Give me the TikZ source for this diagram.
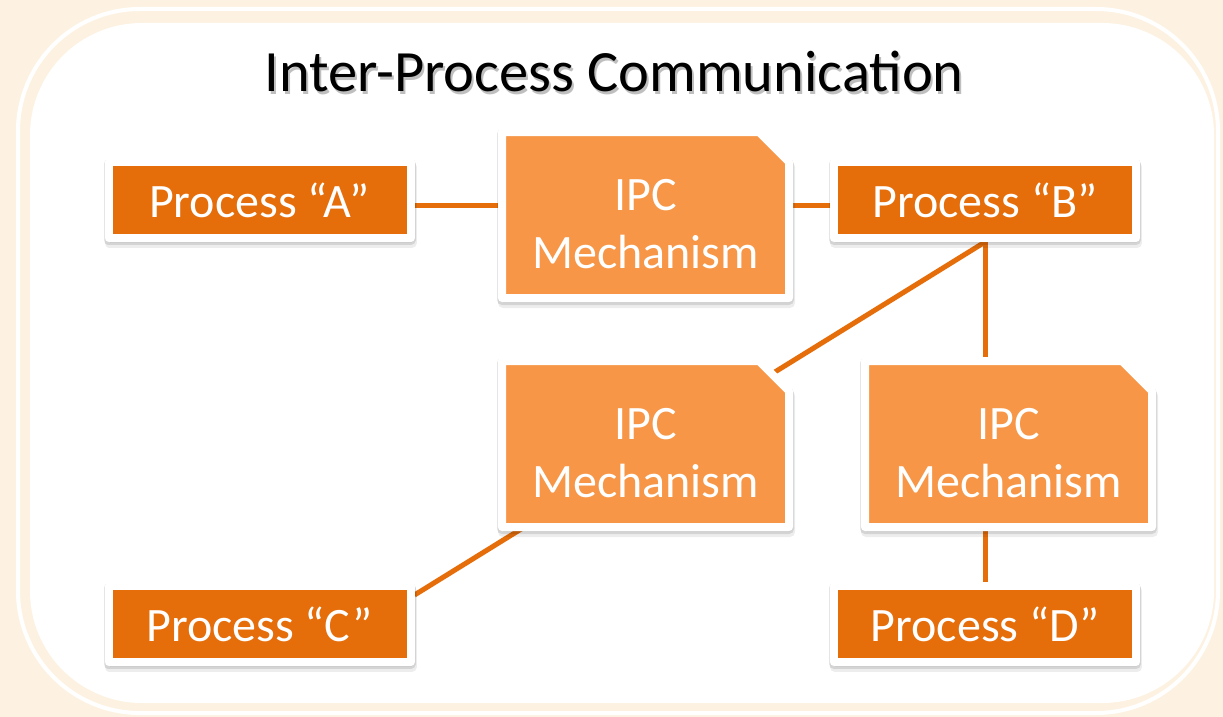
\documentclass[tikz,border=0pt]{standalone}
\usepackage{fontspec}
\setmainfont{Carlito}
\usetikzlibrary{shapes.misc,shadows}
\definecolor{slidecream}{HTML}{FDF2E1}
\definecolor{procorange}{HTML}{E56D0A}
\definecolor{ipcorange}{HTML}{F79646}
\pgfdeclarelayer{backdrop}
\pgfdeclarelayer{wires}
\pgfsetlayers{backdrop,wires,main}
\tikzset{
	boxshadow/.style={
			drop shadow={shadow xshift=0pt, shadow yshift=-2pt, draw=black, line width=10pt, line join=round, opacity=0.10},
			drop shadow={shadow xshift=1pt, shadow yshift=-5pt, draw=black, line width=10pt, line join=round, opacity=0.07}
		},
	process/.style={
			rectangle, fill=procorange, draw=white, line width=8pt, line join=round,
			minimum width=302pt, minimum height=76pt, inner sep=0pt,
			text=white, font=\fontsize{48}{50}\selectfont, boxshadow
		},
	mechanism/.style={
			chamfered rectangle, chamfered rectangle corners=north east,
			chamfered rectangle xsep=15pt, chamfered rectangle ysep=15pt,
			fill=ipcorange, draw=white, line width=8pt, line join=round,
			minimum width=287pt, minimum height=166pt, inner sep=0pt,
			text=white, align=center, text height=106pt, text depth=0pt,
			font=\fontsize{48}{58}\selectfont, boxshadow
		},
	link/.style={draw=procorange, line width=5pt}
}

\begin{document}
\begin{tikzpicture}[x=1pt, y=-1pt]
	\useasboundingbox (0,0) rectangle (1223,717);

	% slide frame
	\begin{pgfonlayer}{backdrop}
		\fill [slidecream] (0,0) rectangle (1223,717);
		\draw [white, line width=4pt, rounded corners=122pt] (18,9) rectangle (1218,713);
		\fill [white, rounded corners=112pt] (30,23) rectangle (1214,703);
	\end{pgfonlayer}

	\node [anchor=base, text=black!25, font=\fontsize{58.5}{60}\selectfont] at (616,95) {Inter-Process Communication};
	\node [anchor=base, text=black, font=\fontsize{58.5}{60}\selectfont] (heading) at (614,92) {Inter-Process Communication};

	\node [process] (procA) at (259.5,200) {Process “A”};
	\node [process] (procB) at (985,200) {Process “B”};
	\node [process] (procC) at (259.5,624) {Process “C”};
	\node [process] (procD) at (985,624) {Process “D”};

	\node [mechanism] (ipcA) at (645.5,215) {IPC\\Mechanism};
	\node [mechanism] (ipcB) at (645.5,444) {IPC\\Mechanism};
	\node [mechanism] (ipcC) at (1008.5,444) {IPC\\Mechanism};

	\begin{pgfonlayer}{wires}
		\draw [link] ([yshift=-5pt]procA.east) -- ([yshift=-5pt]procA.east -| ipcA.west);
		\draw [link] ([yshift=-5pt]procB.west) -- ([yshift=-5pt]procB.west -| ipcA.east);
		\draw [link] (procB.south) -- ([yshift=-13pt]procC.north east);
		\draw [link] (procB.south) -- (procB.south |- ipcC.north);
		\draw [link] (procD.north) -- (procD.north |- ipcC.south);
	\end{pgfonlayer}
\end{tikzpicture}
\end{document}
